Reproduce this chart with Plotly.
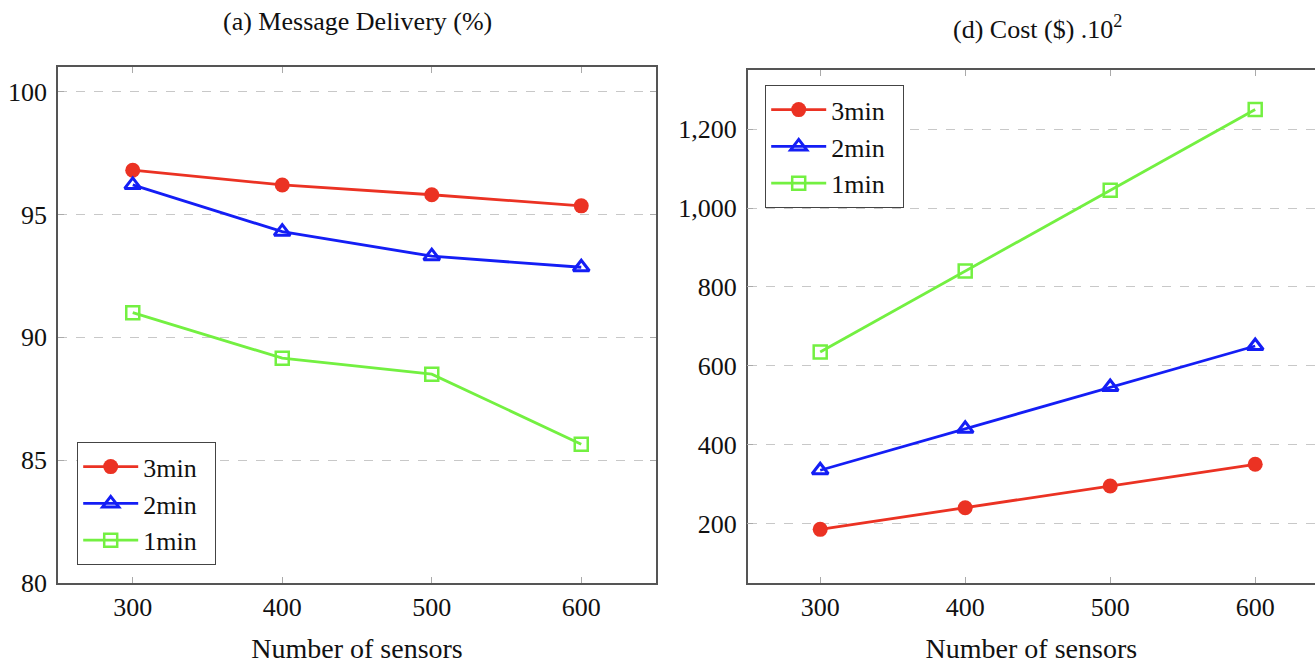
import plotly.graph_objects as go

sensors = [300, 400, 500, 600]
series_names = ["3min", "2min", "1min"]

delivery_3min = [96.8, 96.2, 95.8, 95.35]
delivery_2min = [96.2, 94.3, 93.3, 92.85]
delivery_1min = [91.0, 89.15, 88.5, 85.65]

cost_3min = [185, 240, 295, 350]
cost_2min = [335, 440, 546, 650]
cost_1min = [635, 840, 1045, 1250]

delivery_ticks = [80, 85, 90, 95, 100]
cost_ticks = [200, 400, 600, 800, 1000, 1200]

colors = {"3min": "rgb(235,50,35)", "2min": "rgb(20,30,245)", "1min": "rgb(115,240,65)"}
markers = {
    "3min": dict(symbol="circle", size=15),
    "2min": dict(symbol="triangle-up-open", size=14, line=dict(width=3)),
    "1min": dict(symbol="square-open", size=13, line=dict(width=2.5)),
}

FONT = "Liberation Serif"
fig = go.Figure()

left = {"3min": delivery_3min, "2min": delivery_2min, "1min": delivery_1min}
right = {"3min": cost_3min, "2min": cost_2min, "1min": cost_1min}


def marker_for(name):
    m = dict(markers[name])
    m["color"] = colors[name]
    if "line" in m:
        m["line"] = dict(m["line"], color=colors[name])
    return m


for name in series_names:
    fig.add_trace(go.Scatter(x=sensors, y=left[name], name=name + "  ", mode="lines+markers",
                             line=dict(color=colors[name], width=2.8), marker=marker_for(name),
                             xaxis="x", yaxis="y", legend="legend"))
for name in series_names:
    fig.add_trace(go.Scatter(x=sensors, y=right[name], name=name + "  ", mode="lines+markers",
                             line=dict(color=colors[name], width=2.8), marker=marker_for(name),
                             xaxis="x2", yaxis="y2", legend="legend2"))

H = 664.0
W = 1315.0

axis_common = dict(showline=True, linecolor="#555", linewidth=1.5, ticks="inside",
                   ticklen=6, tickcolor="#aaa", tickwidth=1.2, zeroline=False, automargin=False,
                   tickfont=dict(family=FONT, size=26, color="#111"))
xtitle = dict(text="Number of sensors", font=dict(family=FONT, size=28, color="#111"), standoff=26)
legend_common = dict(xanchor="left", yanchor="top", bgcolor="white", bordercolor="#444",
                     borderwidth=1.2, font=dict(family=FONT, size=26, color="#111"),
                     itemwidth=55, tracegroupgap=0)

fig.update_layout(
    width=1315, height=664,
    margin=dict(l=0, r=0, t=0, b=0, autoexpand=False),
    paper_bgcolor="white", plot_bgcolor="white",
    font=dict(family=FONT, color="#111"),
    xaxis=dict(domain=[58 / W, 656 / W], range=[250, 650], tickvals=sensors,
               showgrid=False, mirror="ticks", anchor="y", ticklabelstandoff=0,
               title=xtitle, **axis_common),
    yaxis=dict(domain=[(H - 583) / H, (H - 67) / H], range=[80, 101], tickvals=delivery_ticks,
               showgrid=True, gridcolor="#c8c8c8", griddash="dash", gridwidth=1.2,
               mirror="ticks", anchor="x", ticklabelstandoff=4, **axis_common),
    xaxis2=dict(domain=[747.7 / W, 1.0], range=[250, 250 + (W - 747.7) / 1.45], tickvals=sensors,
                showgrid=False, mirror="ticks", anchor="y2", ticklabelstandoff=0,
                title=xtitle, **axis_common),
    yaxis2=dict(domain=[(H - 583) / H, (H - 70) / H], range=[49, 1350], tickvals=cost_ticks,
                tickformat=",", showgrid=True, gridcolor="#c8c8c8", griddash="dash", gridwidth=1.2,
                mirror=False, anchor="x2", ticklabelstandoff=4, **axis_common),
    legend=dict(x=77 / W, y=(H - 442) / H, **legend_common),
    legend2=dict(x=765 / W, y=(H - 85) / H, **legend_common),
    annotations=[
        dict(text="(a) Message Delivery (%)", x=357 / W, y=(H - 22) / H, xref="paper", yref="paper",
             xanchor="center", yanchor="middle", showarrow=False,
             font=dict(family=FONT, size=26, color="#111")),
        dict(text="(d) Cost ($) .10<sup>2</sup>", x=1037 / W, y=(H - 28) / H, xref="paper", yref="paper",
             xanchor="center", yanchor="middle", showarrow=False,
             font=dict(family=FONT, size=26, color="#111")),
    ],
)

fig.write_html("out.html", config={"displayModeBar": False},
               post_script="document.body.style.margin='0';document.body.style.overflow='hidden';")
